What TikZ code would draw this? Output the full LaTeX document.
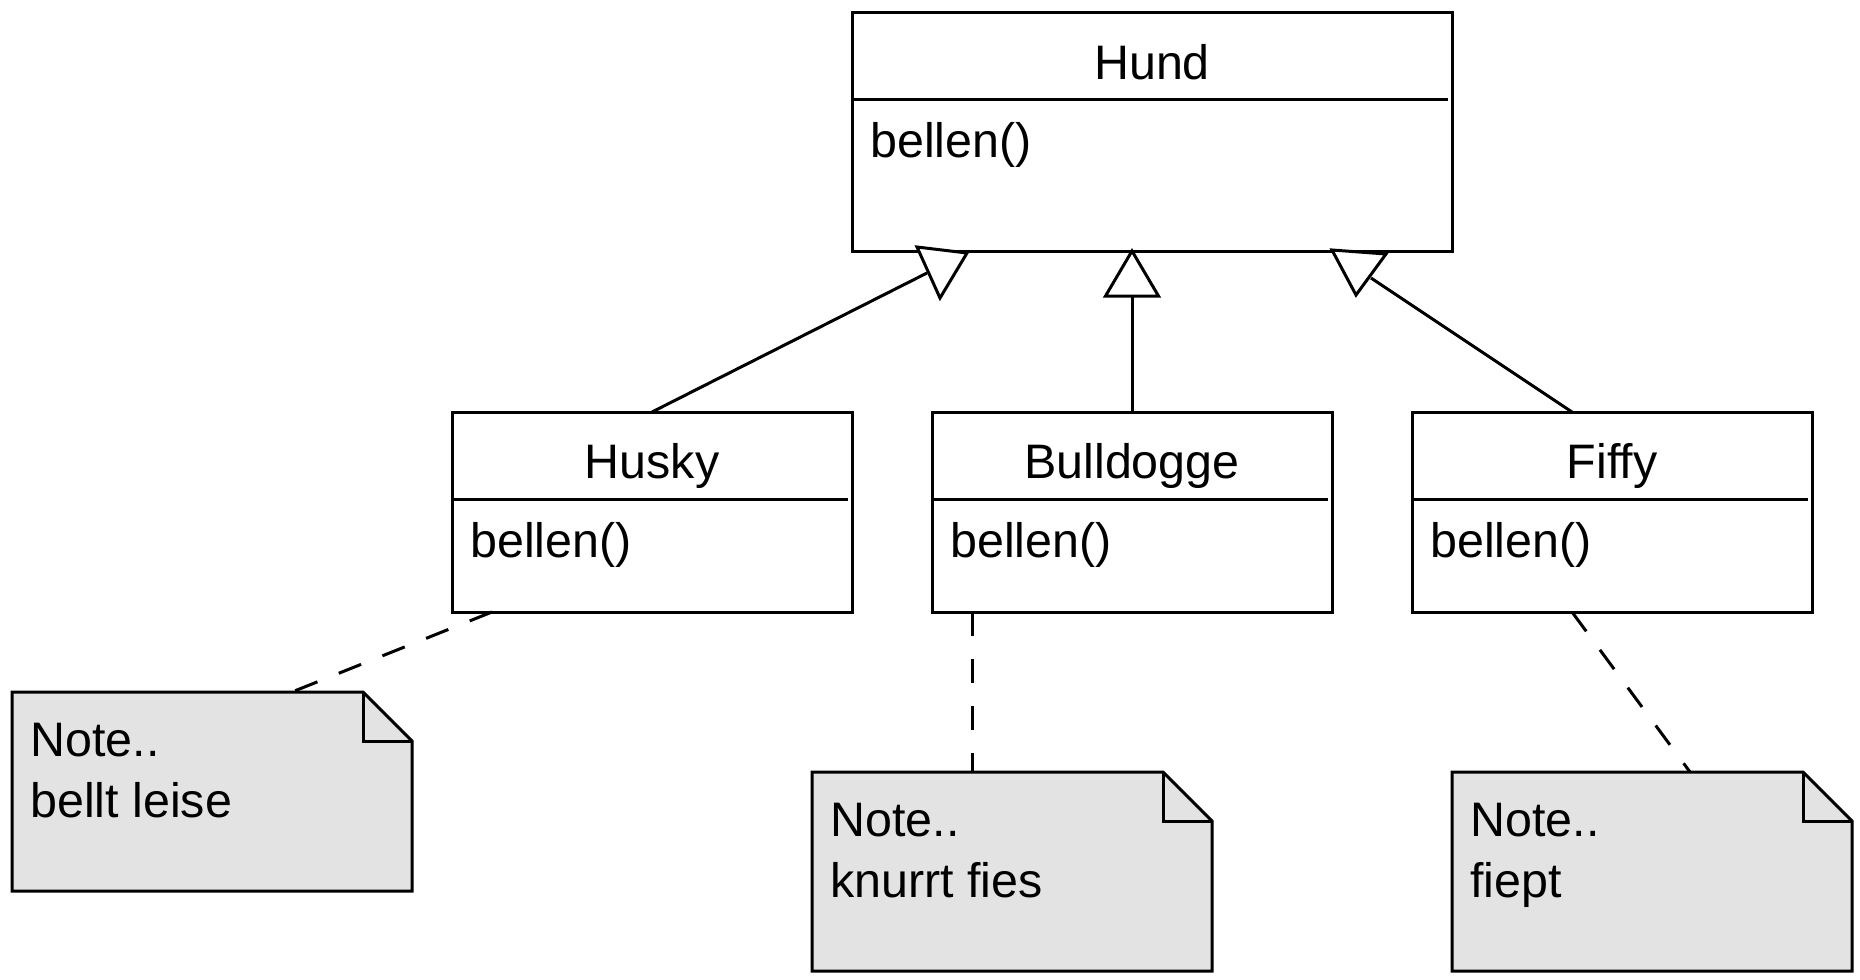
\documentclass[tikz,border=0pt]{standalone}
\usepackage{fontspec}
\setmainfont{Liberation Sans}
\usetikzlibrary{calc}
\definecolor{notizgrau}{RGB}{227,227,227}
\tikzset{klasse/.style = {draw, line width=1.5pt, inner sep=0, outer sep=0,
                          minimum width=200pt, minimum height=100pt}}
\tikzset{notiz/.style = {inner sep=0, outer sep=0, minimum width=200pt, minimum height=99.5pt}}
\tikzset{schrift/.style = {font=\fontsize{24.2pt}{30.5pt}\selectfont, inner sep=0}}
\tikzset{rand/.style = {line width=1.5pt}}
\tikzset{gestrichelt/.style = {line width=1.5pt, dash pattern=on 12pt off 11.5pt}}
\tikzset{dreieck/.style = {line width=1.5pt, fill=white, line join=miter}}

\begin{document}
\begin{tikzpicture}[x=0.5pt, y=-0.5pt]
  \useasboundingbox (0,0) rectangle (1860,980);

  \node [klasse, minimum width=300pt, minimum height=119.5pt] (hund) at (1152,131.5) {};
  \node [klasse] (husky) at (652,512) {};
  \node [klasse] (bulldogge) at (1132,512) {};
  \node [klasse] (fiffy) at (1612,512) {};

  \foreach \k in {hund, husky, bulldogge, fiffy}
    \draw [rand] ($(\k.north west)+(0,87.5)$) -- ($(\k.north east)+(-4,87.5)$);

  \node [schrift, anchor=base] (hundname) at (1152,79) {Hund};
  \node [schrift, anchor=base west] (hundop) at (870,157) {bellen()};
  \node [schrift, anchor=base] (huskyname) at (652,478) {Husky};
  \node [schrift, anchor=base west] (huskyop) at (470,557) {bellen()};
  \node [schrift, anchor=base] (bulldoggename) at (1132,478) {Bulldogge};
  \node [schrift, anchor=base west] (bulldoggeop) at (950,557) {bellen()};
  \node [schrift, anchor=base] (fiffyname) at (1612,478) {Fiffy};
  \node [schrift, anchor=base west] (fiffyop) at (1430,557) {bellen()};

  \node [notiz] (notiz1) at (212,791.5) {};
  \node [notiz] (notiz2) at (1012,871.5) {};
  \node [notiz] (notiz3) at (1652,871.5) {};

  \foreach \n in {notiz1, notiz2, notiz3} {
    \draw [rand, fill=notizgrau] (\n.north west) -- ($(\n.north east)+(-49,0)$)
      -- ($(\n.north east)+(0,49)$) -- (\n.south east) -- (\n.south west) -- cycle;
    \draw [rand] ($(\n.north east)+(-49,0)$) -- ($(\n.north east)+(-49,49)$) -- ($(\n.north east)+(0,49)$);
  }

  \node [schrift, anchor=north west, align=left] (text1) at ($(notiz1.north west)+(18,30.6)$) {Note..\\bellt leise};
  \node [schrift, anchor=north west, align=left] (text2) at ($(notiz2.north west)+(18,30.6)$) {Note..\\knurrt fies};
  \node [schrift, anchor=north west, align=left] (text3) at ($(notiz3.north west)+(18,30.6)$) {Note..\\fiept};

  \draw [gestrichelt] ($(husky.south west)+(40,0)$) -- ($(notiz1.north west)+(280,0)$);
  \draw [gestrichelt] ($(bulldogge.south west)+(40,0)$) -- ($(notiz2.north west)+(160,0)$);
  \draw [gestrichelt] ($(fiffy.south west)+(160,0)$) -- ($(notiz3.north west)+(238,0)$);

  \coordinate (ende1) at (927,273);
  \coordinate (ende3) at (1371,278);
  \coordinate (spitze2) at (bulldogge.north |- hund.south);

  \draw [rand] (husky.north) -- (ende1);
  \draw [dreieck] (917,247) -- (967,253) -- (940,298) -- cycle;
  \draw [rand] (bulldogge.north) -- ($(spitze2)+(0,45)$);
  \draw [dreieck] (spitze2) -- ++(-26.5,45) -- ++(53,0) -- cycle;
  \draw [rand] ($(fiffy.north west)+(160,0)$) -- (ende3);
  \draw [dreieck] (1332,250) -- (1386,254) -- (1356,295) -- cycle;
\end{tikzpicture}
\end{document}
